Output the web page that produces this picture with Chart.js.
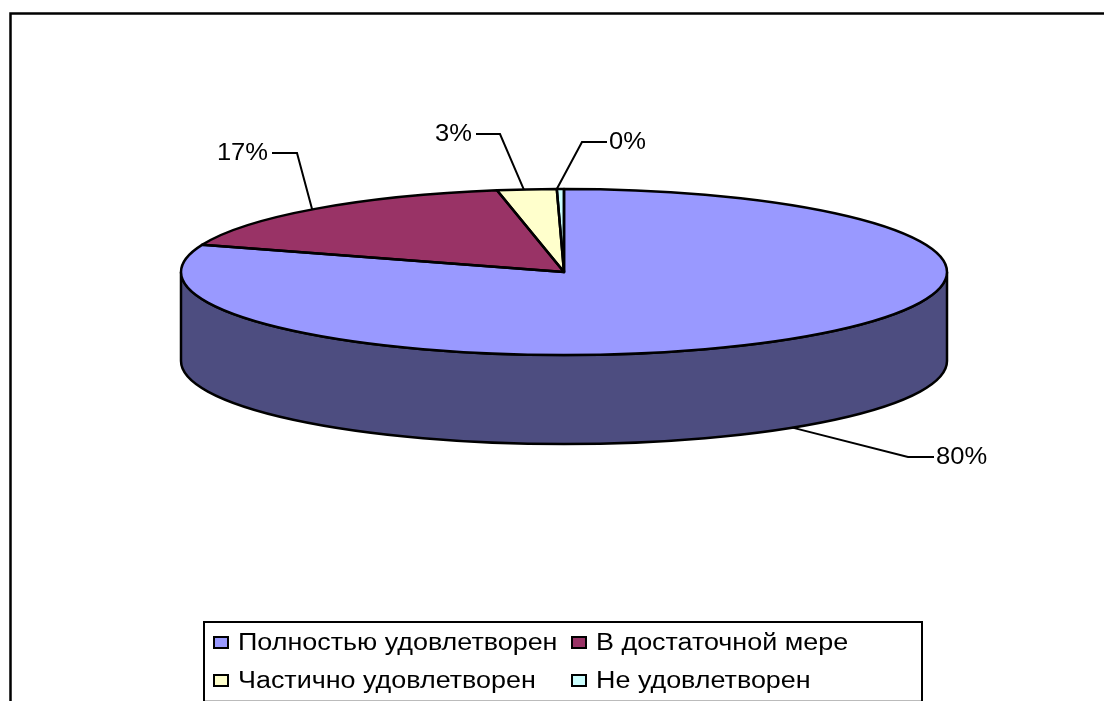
<!DOCTYPE html>
<html>
<head>
<meta charset="utf-8">
<title>pie</title>
<script src="https://cdn.jsdelivr.net/npm/chart.js@4"></script>
<style>
  html, body { margin: 0; padding: 0; background: #fff; }
  canvas { display: block; }
</style>
</head>
<body>
<canvas id="pieChart" width="1104" height="701"></canvas>
<script>
const categories = ["Полностью удовлетворен", "В достаточной мере", "Частично удовлетворен", "Не удовлетворен"];
const shares = [80.3, 16.9, 2.5, 0.3];
const percentLabels = ["80%", "17%", "3%", "0%"];
const sliceColors = ["#9999FF", "#993366", "#FFFFCC", "#CCFFFF"];
const sideColors = ["#4D4D80", "#4D1A33", "#808066", "#668080"];

// 立体の見た目
const flatten = 83 / 383;
const depth = 89;
const fontName = '"Liberation Sans", Arial, sans-serif';

// ラベル: 引き出し線の位置(スライス内の割合)と折れ点
const leaderAt = [0.496, 0.49, 0.45, 0];
const leaderKnee = [[908, 457], [297, 153], [500, 134], [582, 142]];
const leaderEnd = [[934, 457], [272, 153], [476, 134], [607, 142]];

// 元画像の文字は横に伸びているので横方向だけ拡大
function stretched(ctx, text, x, y, size, sx) {
  ctx.save();
  ctx.translate(x, y);
  ctx.scale(sx, 1);
  ctx.font = size + "px " + fontName;
  ctx.fillText(text, 0, 0);
  ctx.restore();
}

// 側面を先に描く
function drawSides(chart) {
  const ctx = chart.ctx;
  const arcs = chart.getDatasetMeta(0).data;
  ctx.save();
  ctx.lineWidth = 2.5;
  ctx.strokeStyle = "#000";
  arcs.forEach((arc, i) => {
    const a0 = Math.max(arc.startAngle, 0);
    const a1 = Math.min(arc.endAngle, Math.PI);
    if (a1 <= a0) return;
    const rx = arc.outerRadius;
    const ry = rx * flatten;
    ctx.beginPath();
    ctx.ellipse(arc.x, arc.y, rx, ry, 0, a0, a1);
    ctx.ellipse(arc.x, arc.y + depth, rx, ry, 0, a1, a0, true);
    ctx.closePath();
    ctx.fillStyle = sideColors[i];
    ctx.fill();
    ctx.stroke();
  });
  ctx.restore();
}

// 線の太さが潰れないように変形を戻してから輪郭を描く
function drawOutlines(chart) {
  const ctx = chart.ctx;
  ctx.save();
  ctx.lineWidth = 2.5;
  ctx.strokeStyle = "#000";
  ctx.lineJoin = "round";
  chart.getDatasetMeta(0).data.forEach((arc) => {
    ctx.beginPath();
    ctx.ellipse(arc.x, arc.y, arc.outerRadius, arc.outerRadius * flatten, 0, arc.startAngle, arc.endAngle);
    ctx.lineTo(arc.x, arc.y);
    ctx.closePath();
    ctx.stroke();
  });
  ctx.restore();
}

function drawLeaders(chart) {
  const ctx = chart.ctx;
  ctx.save();
  ctx.lineWidth = 2;
  ctx.strokeStyle = "#000";
  ctx.fillStyle = "#000";
  ctx.textBaseline = "middle";
  chart.getDatasetMeta(0).data.forEach((arc, i) => {
    const angle = arc.startAngle + (arc.endAngle - arc.startAngle) * leaderAt[i];
    const sx = arc.x + arc.outerRadius * Math.cos(angle);
    let sy = arc.y + arc.outerRadius * flatten * Math.sin(angle);
    if (Math.sin(angle) > 0) sy += depth; // 手前側は側面の下から
    ctx.beginPath();
    ctx.moveTo(sx, sy);
    ctx.lineTo(leaderKnee[i][0], leaderKnee[i][1]);
    ctx.lineTo(leaderEnd[i][0], leaderEnd[i][1]);
    ctx.stroke();
    const toRight = leaderEnd[i][0] > leaderKnee[i][0];
    ctx.textAlign = toRight ? "left" : "right";
    stretched(ctx, percentLabels[i], leaderEnd[i][0] + (toRight ? 2 : -4), leaderEnd[i][1] + 1, 23, 1.11);
  });
  ctx.restore();
}

function drawFrameAndLegend(chart) {
  const ctx = chart.ctx;
  ctx.save();
  ctx.strokeStyle = "#000";
  // 外枠は左と上だけ見えている
  ctx.lineWidth = 2.5;
  ctx.beginPath();
  ctx.moveTo(10.5, 701);
  ctx.lineTo(10.5, 13.5);
  ctx.lineTo(1104, 13.5);
  ctx.stroke();
  // 凡例の枠
  ctx.lineWidth = 2;
  ctx.beginPath();
  ctx.moveTo(204, 701);
  ctx.lineTo(204, 622);
  ctx.lineTo(922, 622);
  ctx.lineTo(922, 701);
  ctx.stroke();
  ctx.strokeStyle = "#bbb";
  ctx.lineWidth = 1;
  ctx.beginPath();
  ctx.moveTo(205, 700.5);
  ctx.lineTo(921, 700.5);
  ctx.stroke();
  // 凡例の中身
  const columns = [213, 571];
  const rows = [643, 681];
  ctx.strokeStyle = "#000";
  ctx.lineWidth = 2;
  ctx.textBaseline = "middle";
  ctx.textAlign = "left";
  categories.forEach((name, i) => {
    const x = columns[i % 2];
    const y = rows[Math.floor(i / 2)];
    ctx.fillStyle = sliceColors[i];
    ctx.fillRect(x + 1, y - 6, 14, 11);
    ctx.strokeRect(x + 1, y - 6, 14, 11);
    ctx.fillStyle = "#000";
    stretched(ctx, name, x + 25, y + 1, 23, 1.17);
  });
  ctx.restore();
}

const pseudo3d = {
  id: "pseudo3d",
  beforeDatasetsDraw(chart) {
    drawSides(chart);
  },
  beforeDatasetDraw(chart) {
    const ctx = chart.ctx;
    const arc = chart.getDatasetMeta(0).data[0];
    ctx.save();
    ctx.translate(arc.x, arc.y);
    ctx.scale(1, flatten);
    ctx.translate(-arc.x, -arc.y);
  },
  afterDatasetDraw(chart) {
    chart.ctx.restore();
    drawOutlines(chart);
  },
  afterDraw(chart) {
    drawLeaders(chart);
    drawFrameAndLegend(chart);
  },
};

new Chart(document.getElementById("pieChart"), {
  type: "pie",
  data: {
    labels: categories,
    datasets: [{
      data: shares,
      backgroundColor: sliceColors,
      borderWidth: 0,
      clip: false,
    }],
  },
  options: {
    responsive: false,
    animation: false,
    radius: 383,
    layout: { padding: { left: 24, bottom: 157 } },
    plugins: {
      legend: { display: false },
      tooltip: { enabled: false },
      title: { display: false },
    },
  },
  plugins: [pseudo3d],
});
</script>
</body>
</html>
